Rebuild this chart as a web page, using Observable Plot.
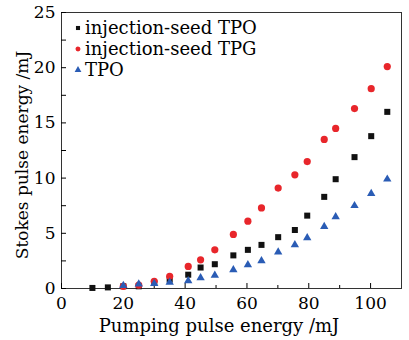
<!DOCTYPE html>
<html>
<head>
<meta charset="utf-8">
<script src="https://cdn.jsdelivr.net/npm/d3@7"></script>
<script src="https://cdn.jsdelivr.net/npm/@observablehq/plot@0.6"></script>
<style>
  html, body { margin: 0; padding: 0; background: #fff; }
  #wrap { position: relative; width: 409px; height: 340px; font-family: "DejaVu Serif", serif; }
  #legend { position: absolute; left: 72px; top: 17px; font-size: 18px; line-height: 21px; color: #000; }
  #legend div { display: flex; align-items: center; height: 21px; white-space: nowrap; }
  #legend svg { width: 12px; height: 12px; margin-right: 1px; }
</style>
</head>
<body>
<div id="wrap"><div id="legend"></div></div>
<script>
// Data
const pump    = [10, 15, 20, 25, 30, 35, 41, 45, 49.6, 55.6, 60.3, 64.7, 70.1, 75.5, 79.5, 85, 88.7, 94.8, 100.2, 105.4];
const seedTPO = [0.05, 0.1, 0.2, 0.2, 0.5, 0.8, 1.25, 1.9, 2.2, 3.0, 3.5, 3.95, 4.65, 5.3, 6.6, 8.3, 9.9, 11.9, 13.8, 16.0];
const seedTPG = [null, null, 0.2, 0.3, 0.65, 1.1, 2.0, 2.6, 3.5, 4.9, 6.1, 7.3, 9.1, 10.3, 11.5, 13.5, 14.5, 16.3, 18.1, 20.1];
const tpo     = [null, null, 0.27, 0.4, 0.45, 0.55, 0.7, 0.97, 1.2, 1.7, 2.15, 2.5, 3.3, 3.95, 4.6, 5.6, 6.5, 7.5, 8.6, 9.9];

const seriesNames = ["injection-seed TPO", "injection-seed TPG", "TPO"];
const seriesColors = ["#111111", "#e8262b", "#2a5cb5"];
const seriesSymbols = ["square", "circle", "triangle"];
const seriesValues = [seedTPO, seedTPG, tpo];

const xMajor = [0, 20, 40, 60, 80, 100];
const xMinor = [10, 30, 50, 70, 90];
const yMajor = [0, 5, 10, 15, 20, 25];
const yMinor = [2.5, 7.5, 12.5, 17.5, 22.5];

const xTitle = "Pumping pulse energy /mJ";
const yTitle = "Stokes pulse energy /mJ";

function rows(i) {
  return pump.map((x, j) => ({x, y: seriesValues[i][j]})).filter(d => d.y != null);
}

const dotR = [3.4, 3.6, 3.1];

const chart = Plot.plot({
  width: 409,
  height: 340,
  marginLeft: 61,
  marginRight: 8,
  marginTop: 12,
  marginBottom: 52,
  style: {fontFamily: "DejaVu Serif, serif", fontSize: "16px", color: "#000", background: "transparent"},
  x: {domain: [0, 110]},
  y: {domain: [0, 25]},
  marks: [
    Plot.frame({stroke: "#333", strokeWidth: 1}),
    Plot.axisX({ticks: xMajor, tickSize: -5, tickPadding: 13, fontSize: 17, label: null}),
    Plot.axisX({ticks: xMinor, tickSize: -3, tickFormat: () => "", label: null}),
    Plot.axisY({ticks: yMajor, tickSize: -5, tickPadding: 11, fontSize: 17, label: null}),
    Plot.axisY({ticks: yMinor, tickSize: -5, tickFormat: () => "", label: null}),
    ...seriesNames.map((name, i) => Plot.dot(rows(i), {
      x: "x", y: "y", symbol: () => seriesSymbols[i], fill: seriesColors[i], r: dotR[i], stroke: "none"
    }))
  ]
});

const wrap = document.getElementById("wrap");
wrap.insertBefore(chart, wrap.firstChild);
chart.style.position = "absolute";
chart.style.left = "0";
chart.style.top = "0";

// Axis titles as SVG text, positioned by the chart geometry
const svg = d3.select(chart);
const xs = chart.scale("x"), ys = chart.scale("y");
svg.append("text")
  .attr("x", (xs.range[0] + xs.range[1]) / 2 - 12)
  .attr("y", 332)
  .attr("text-anchor", "middle")
  .attr("font-size", 18)
  .attr("fill", "#000")
  .text(xTitle);
svg.append("text")
  .attr("transform", `translate(28,${(ys.range[0] + ys.range[1]) / 2 + 5}) rotate(-90)`)
  .attr("text-anchor", "middle")
  .attr("font-size", 17)
  .attr("fill", "#000")
  .text(yTitle);

// Legend
const legend = d3.select("#legend");
seriesNames.forEach((name, i) => {
  const row = legend.append("div");
  const s = row.append("svg").attr("viewBox", "-6 -6 12 12");
  s.append("path")
    .attr("d", d3.symbol(d3["symbol" + seriesSymbols[i][0].toUpperCase() + seriesSymbols[i].slice(1)], Math.PI * 3.1 * 3.1 * (i === 0 ? 0.55 : 0.65))())
    .attr("fill", seriesColors[i]);
  row.append("span").text(name);
});
</script>
</body>
</html>
